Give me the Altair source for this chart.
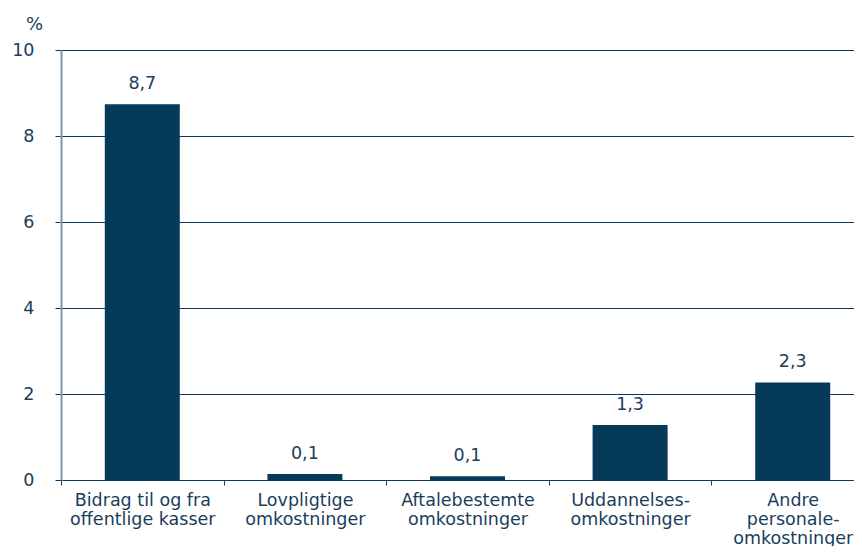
import altair as alt
import pandas as pd

categories = [
    "Bidrag til og fra|offentlige kasser",
    "Lovpligtige|omkostninger",
    "Aftalebestemte|omkostninger",
    "Uddannelses-|omkostninger",
    "Andre|personale-|omkostninger",
]
values = [8.74, 0.14, 0.09, 1.28, 2.27]
labels = ["8,7", "0,1", "0,1", "1,3", "2,3"]

df = pd.DataFrame({"cat": categories, "val": values, "lab": labels})

FONT = "DejaVu Sans"
TXT = "#1b3d5c"
BAR = "#053a58"

x = alt.X(
    "cat:N",
    sort=categories,
    title=None,
    scale=alt.Scale(range=[0, 813], paddingInner=0, paddingOuter=0),
    axis=alt.Axis(
        labelExpr="split(datum.label, '|')",
        labelAngle=0,
        labelFont=FONT,
        labelFontSize=17.5,
        labelColor=TXT,
        labelLineHeight=19,
        labelPadding=6,
        labelBaseline="top",
        tickBand="extent",
        tickSize=5,
        tickColor="#1b3d5c",
        domainColor="#0e3a5a",
        domainWidth=1,
        labelLimit=300,
    ),
)

y = alt.Y(
    "val:Q",
    scale=alt.Scale(domain=[0, 10]),
    axis=alt.Axis(
        values=[0, 2, 4, 6, 8, 10],
        title="%",
        titleAngle=0,
        titleX=-27,
        titleY=-21,
        titleAlign="center",
        titleBaseline="alphabetic",
        titleFont=FONT,
        titleFontSize=18,
        titleFontWeight="normal",
        titleColor=TXT,
        labelFont=FONT,
        labelFontSize=17.5,
        labelColor=TXT,
        labelPadding=21,
        tickSize=6,
        tickColor="#0e3a5a",
        gridColor="#0e3a5a",
        gridWidth=1,
        domainColor="#7d97a8",
        domainWidth=2,
    ),
)

base = alt.Chart(df)
bars = base.mark_bar(color=BAR, size=75).encode(x=x, y=y)
text = base.mark_text(
    baseline="bottom", dy=-11, font=FONT, fontSize=17.5, color=TXT
).encode(x=alt.X("cat:N", sort=categories), y="val:Q", text="lab:N")

chart = (
    alt.layer(bars, text)
    .properties(
        width=793,
        height=430,
        autosize=alt.AutoSizeParams(type="none"),
        padding={"left": 53, "top": 42, "right": 0, "bottom": 66},
    )
    .configure_view(stroke=None)
    .configure(background="white")
)

chart.save("out.html", embed_options={"renderer": "svg", "actions": False})
